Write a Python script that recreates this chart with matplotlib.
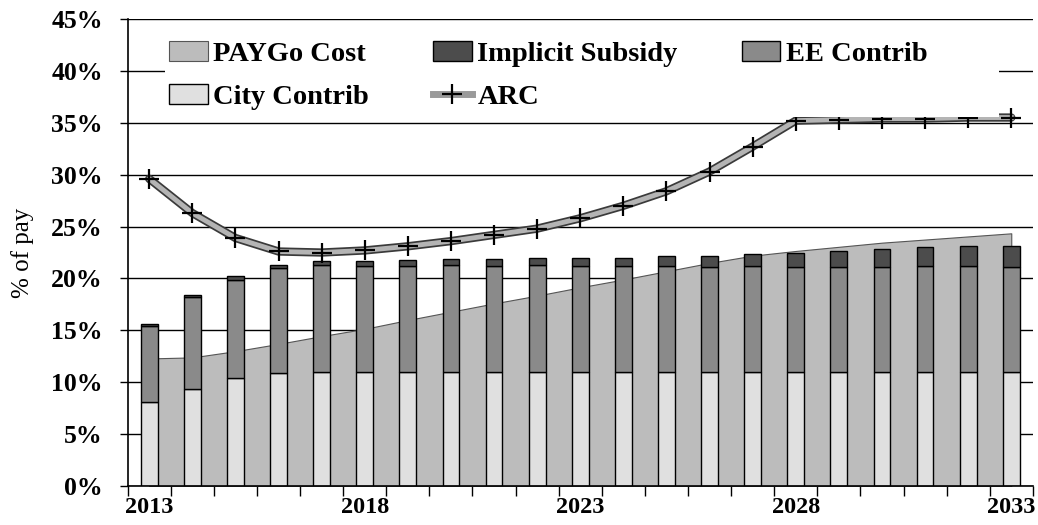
import numpy as np
import matplotlib.pyplot as plt
from matplotlib.patches import Rectangle
from matplotlib.ticker import FixedLocator, FuncFormatter

years = list(range(2013, 2034))
tick_years = [2013, 2018, 2023, 2028, 2033]

# stacked bars, % of pay
city_contrib = [8.1, 9.4, 10.4, 10.9, 11.0, 11.0, 11.0, 11.0, 11.0, 11.0, 11.0,
                11.0, 11.0, 11.0, 11.0, 11.0, 11.0, 11.0, 11.0, 11.0, 11.0]
ee_contrib = [7.3, 8.8, 9.5, 10.1, 10.3, 10.2, 10.2, 10.3, 10.2, 10.3, 10.2,
              10.2, 10.2, 10.1, 10.2, 10.1, 10.1, 10.1, 10.2, 10.2, 10.1]
implicit_subsidy = [0.2, 0.2, 0.3, 0.3, 0.4, 0.5, 0.6, 0.6, 0.7, 0.7, 0.8,
                    0.8, 1.0, 1.1, 1.2, 1.4, 1.5, 1.7, 1.8, 1.9, 2.0]
# area
paygo_cost = [12.3, 12.4, 13.0, 13.7, 14.45, 15.15, 16.0, 16.8, 17.6, 18.35, 19.15,
              19.9, 20.7, 21.5, 22.2, 22.65, 23.05, 23.45, 23.75, 24.05, 24.35]
# line
arc = [29.6, 26.3, 23.9, 22.6, 22.5, 22.7, 23.1, 23.6, 24.2, 24.8, 25.8,
       27.0, 28.4, 30.3, 32.7, 35.2, 35.3, 35.4, 35.4, 35.5, 35.5]

serif = 'Liberation Serif'
x = np.arange(len(years))
city = np.array(city_contrib)
ee = np.array(ee_contrib)
imp = np.array(implicit_subsidy)

fig = plt.figure(figsize=(10.38, 5.25), dpi=100)
ax = fig.add_axes([0.123, 0.074, 0.872, 0.89])

ax.set_axisbelow(True)
ax.yaxis.grid(True, color='black', linewidth=1.0, zorder=0)

area = ax.fill_between(x, 0, paygo_cost, facecolor='#bcbcbc', edgecolor='#555555',
                       linewidth=0.8, zorder=1, label='PAYGo Cost')

w = 0.39
b_city = ax.bar(x, city, w, color='#e0e0e0', edgecolor='black', linewidth=1.0,
                zorder=2, label='City Contrib')
b_ee = ax.bar(x, ee, w, bottom=city, color='#8a8a8a', edgecolor='black',
              linewidth=1.0, zorder=2, label='EE Contrib')
b_imp = ax.bar(x, imp, w, bottom=city + ee, color='#4c4c4c', edgecolor='black',
               linewidth=1.0, zorder=2, label='Implicit Subsidy')

# ARC: grey band with dark outline, + markers
ax.plot(x, arc, color='#3a3a3a', linewidth=6, solid_capstyle='round', zorder=3)
ax.plot(x, arc, color='#b4b4b4', linewidth=3.5, zorder=4)
ax.plot(x, arc, linestyle='none', marker='+', markersize=15, markeredgewidth=1.6,
        color='black', zorder=5)
arc_handle, = ax.plot([], [], color='#9a9a9a', linewidth=5, marker='+',
                      markersize=15, markeredgewidth=1.6, markeredgecolor='black')

ax.set_xlim(-0.5, len(years) - 0.5)
ax.set_ylim(0, 45)
ax.set_yticks(np.arange(0, 46, 5))
ax.yaxis.set_major_formatter(FuncFormatter(lambda v, p: f'{int(v)}%'))

ax.xaxis.set_major_locator(FixedLocator([years.index(y) for y in tick_years]))
ax.set_xticklabels([str(y) for y in tick_years])
ax.xaxis.set_minor_locator(FixedLocator(np.arange(-0.5, len(years), 1.0)))
ax.tick_params(axis='x', which='major', length=0, pad=8)
ax.tick_params(axis='x', which='minor', length=7, width=1, direction='out')
ax.tick_params(axis='y', length=6, width=1, direction='out', pad=12)

for lab in ax.get_xticklabels():
    lab.set_fontfamily(serif)
    lab.set_fontweight('bold')
    lab.set_fontsize(17.5)
for lab in ax.get_yticklabels():
    lab.set_fontfamily(serif)
    lab.set_fontweight('bold')
    lab.set_fontsize(18.5)

ax.spines['top'].set_visible(False)
ax.spines['right'].set_visible(False)
ax.spines['left'].set_linewidth(1.2)
ax.spines['bottom'].set_linewidth(1.2)

ax.set_ylabel('% of pay', fontfamily=serif, fontsize=18, labelpad=12)

# white legend background covering the 40% gridline
ax.add_patch(Rectangle((0.041, 0.79), 0.922, 0.197, transform=ax.transAxes,
                       facecolor='white', edgecolor='none', zorder=5.5))

handles = [area, b_city, b_imp, arc_handle, b_ee]
labels = ['PAYGo Cost', 'City Contrib', 'Implicit Subsidy', 'ARC', 'EE Contrib']
leg = ax.legend(handles, labels, ncol=3, loc='upper left', bbox_to_anchor=(0.046, 0.953),
                borderaxespad=0, frameon=False, borderpad=0,
                handlelength=1.35, handletextpad=0.2, columnspacing=2.25,
                labelspacing=0.6, prop={'family': serif, 'weight': 'bold', 'size': 20.5})
leg.set_zorder(6)

fig.savefig('out.png', dpi=100)
